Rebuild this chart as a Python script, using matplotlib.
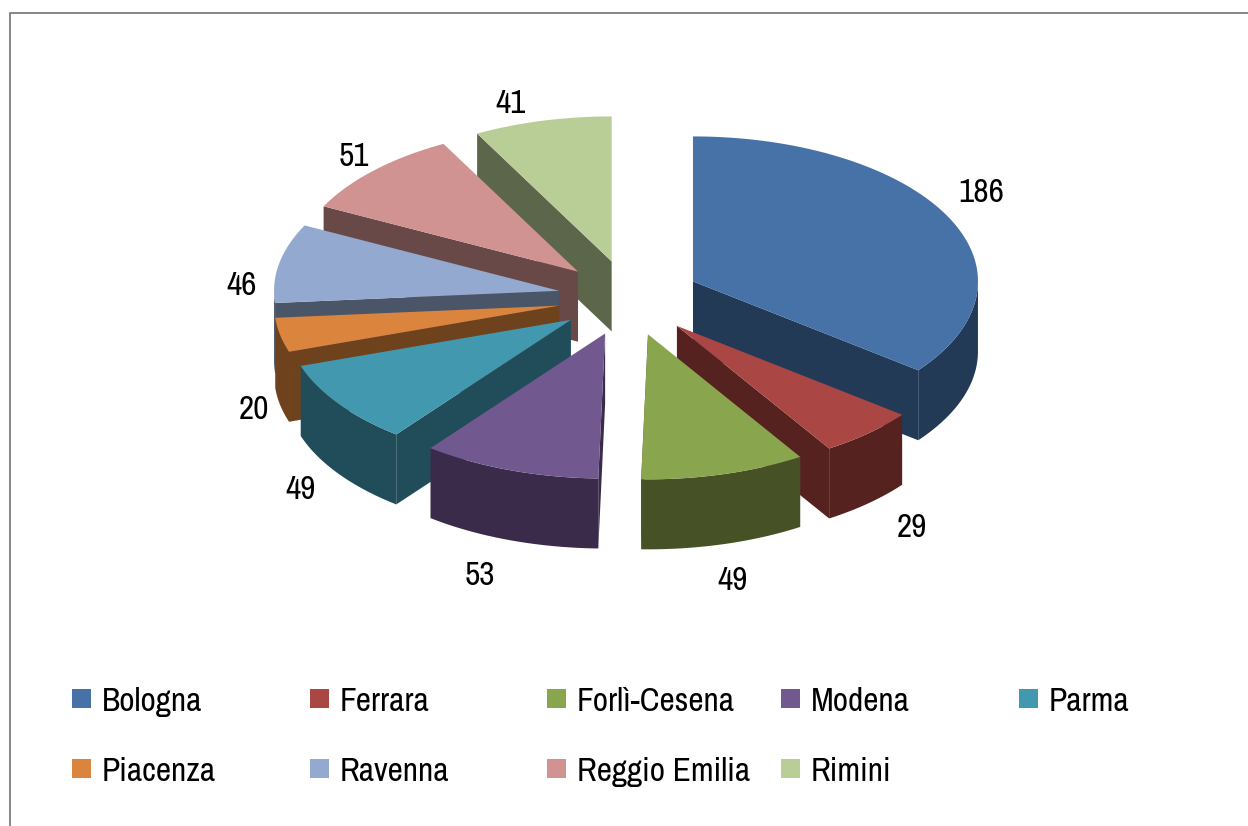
import numpy as np
import matplotlib
matplotlib.use('Agg')
import matplotlib.pyplot as plt
from matplotlib.patches import Polygon, Rectangle

names = ['Bologna', 'Ferrara', 'Forlì-Cesena', 'Modena', 'Parma',
         'Piacenza', 'Ravenna', 'Reggio Emilia', 'Rimini']
values = [186, 29, 49, 53, 49, 20, 46, 51, 41]
top_colors = ['#4672A8', '#AA4643', '#89A54E', '#71588F', '#4198AF',
              '#DB843D', '#93A9CF', '#D19392', '#B9CD96']
side_colors = ['#233A57', '#562220', '#465226', '#3B2B4A', '#214C59',
               '#6F421E', '#4A5568', '#694948', '#5C664B']

# pie geometry, in pixels of the picture
cx, cy = 629, 298
rx, ry = 285, 145
depth = 70
explode_x, explode_y = 0.25, 0.26

plt.rcParams['font.family'] = ['Archivo Narrow', 'Roboto Condensed', 'Liberation Sans']

fig = plt.figure(figsize=(12.48, 8.26), dpi=100)
ax = fig.add_axes([0, 0, 1, 1])
ax.set_xlim(0, 1248)
ax.set_ylim(826, 0)
ax.axis('off')

# chart frame, only top and left edges show
ax.plot([10, 10, 1248], [826, 13, 13], color='#868686', lw=1.4)

edges = np.cumsum([0] + values) / sum(values) * 2 * np.pi


def rim(a, x0, y0):
    return x0 + rx * np.sin(a), y0 - ry * np.cos(a)


def draw_slice(i):
    a0, a1 = edges[i], edges[i + 1]
    mid = (a0 + a1) / 2
    x0 = cx + explode_x * rx * np.sin(mid)
    y0 = cy - explode_y * ry * np.cos(mid)
    t = np.linspace(a0, a1, 80)
    xs, ys = rim(t, x0, y0)

    # radial wall that faces the viewer
    a_wall = a1 if mid < np.pi else a0
    xw, yw = rim(a_wall, x0, y0)
    wall = [(x0, y0), (xw, yw), (xw, yw + depth), (x0, y0 + depth)]
    ax.add_patch(Polygon(wall, fc=side_colors[i], ec='none'))

    # outer wall, only the front half of the rim
    keep = (t >= np.pi / 2) & (t <= 3 * np.pi / 2)
    if keep.any():
        xo, yo = xs[keep], ys[keep]
        pts = list(zip(xo, yo)) + list(zip(xo[::-1], yo[::-1] + depth))
        ax.add_patch(Polygon(pts, fc=side_colors[i], ec='none'))

    # top face
    pts = [(x0, y0)] + list(zip(xs, ys))
    ax.add_patch(Polygon(pts, fc=top_colors[i], ec='none'))


# back to front: left half from the back, then right half
for i in [8, 7, 6, 5, 4, 3, 0, 1, 2]:
    draw_slice(i)

# value labels
label_x = [981, 912, 733, 480, 301, 254, 242, 354, 511]
label_y = [193, 528, 581, 576, 490, 410, 286, 157, 104]
for v, lx, ly in zip(values, label_x, label_y):
    ax.text(lx, ly, str(v), fontsize=24, color='black', ha='center', va='center')

# legend
legend_x = [72, 310, 547, 781, 1019]
legend_y = [699, 769]
for i, name in enumerate(names):
    lx = legend_x[i % 5]
    ly = legend_y[i // 5]
    ax.add_patch(Rectangle((lx, ly - 10), 19, 19, fc=top_colors[i], ec='none'))
    ax.text(lx + 30, ly, name, fontsize=24, color='black', ha='left', va='center_baseline')

fig.savefig('out.png', dpi=100)
